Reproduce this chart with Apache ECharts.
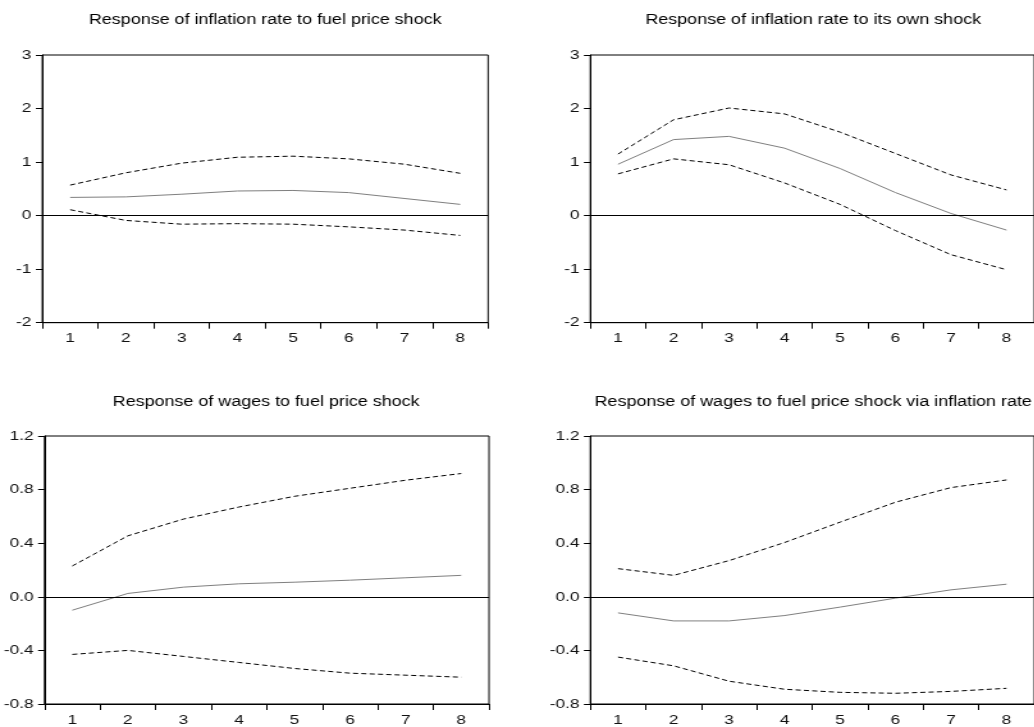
<!DOCTYPE html>
<html><head><meta charset="utf-8">
<script src="https://cdn.jsdelivr.net/npm/echarts@6/dist/echarts.min.js"></script>
<style>
html,body{margin:0;padding:0;background:#fff;overflow:hidden;width:1034px;height:727px;}
#chart{width:808px;height:727px;transform:scaleX(1.28);transform-origin:0 0;}
</style></head><body><div id="chart"></div>
<script>
// ---- data ----
const categories = ['1', '2', '3', '4', '5', '6', '7', '8'];
const titles = [
  'Response of inflation rate to fuel price shock',
  'Response of inflation rate to its own shock',
  'Response of wages to fuel price shock',
  'Response of wages to fuel price shock via inflation rate'
];
// panel 1: inflation rate <- fuel price shock
const p1Upper = [0.57, 0.80, 0.98, 1.09, 1.11, 1.06, 0.96, 0.79];
const p1Resp  = [0.34, 0.35, 0.40, 0.46, 0.47, 0.43, 0.32, 0.21];
const p1Lower = [0.11, -0.09, -0.16, -0.15, -0.16, -0.21, -0.27, -0.37];
// panel 2: inflation rate <- own shock
const p2Upper = [1.15, 1.79, 2.01, 1.90, 1.56, 1.16, 0.76, 0.48];
const p2Resp  = [0.96, 1.42, 1.48, 1.26, 0.88, 0.43, 0.04, -0.27];
const p2Lower = [0.78, 1.06, 0.95, 0.61, 0.21, -0.28, -0.73, -1.01];
// panel 3: wages <- fuel price shock
const p3Upper = [0.23, 0.455, 0.58, 0.67, 0.75, 0.81, 0.87, 0.92];
const p3Resp  = [-0.10, 0.025, 0.072, 0.097, 0.109, 0.124, 0.142, 0.16];
const p3Lower = [-0.43, -0.40, -0.445, -0.49, -0.535, -0.57, -0.585, -0.60];
// panel 4: wages <- fuel price shock via inflation rate
const p4Upper = [0.21, 0.16, 0.27, 0.405, 0.557, 0.706, 0.815, 0.872];
const p4Resp  = [-0.12, -0.18, -0.18, -0.14, -0.077, -0.01, 0.052, 0.094];
const p4Lower = [-0.45, -0.515, -0.63, -0.69, -0.713, -0.72, -0.706, -0.683];
// y axis ranges
const topAxis = {min: -2, max: 3, interval: 1, decimals: 0};
const bottomAxis = {min: -0.8, max: 1.2, interval: 0.4, decimals: 1};

// ---- layout (reference pixels; x divided by horizontal stretch) ----
const SX = 1.28;
const FONT = '"Liberation Sans", Arial, Helvetica, sans-serif';
const panels = [
  {left: 42.3, top: 55, width: 445.8, height: 267.7, axis: topAxis, data: [p1Upper, p1Resp, p1Lower], tx: 265.2, ty: 20.5},
  {left: 590.3, top: 55, width: 445.8, height: 267.7, axis: topAxis, data: [p2Upper, p2Resp, p2Lower], tx: 813.2, ty: 20.5},
  {left: 43.2, top: 436, width: 445.8, height: 268.3, axis: bottomAxis, data: [p3Upper, p3Resp, p3Lower], tx: 266.1, ty: 402.5},
  {left: 590.3, top: 436, width: 445.8, height: 268.3, axis: bottomAxis, data: [p4Upper, p4Resp, p4Lower], tx: 813.2, ty: 402.5}
];

const grid = [], xAxis = [], yAxis = [], series = [], graphic = [];
panels.forEach((p, i) => {
  grid.push({left: p.left / SX, top: p.top, width: p.width / SX, height: p.height,
    show: true, borderColor: '#000', borderWidth: 1, backgroundColor: 'transparent'});
  xAxis.push({type: 'category', gridIndex: i, data: categories, boundaryGap: true,
    axisLine: {show: true, onZero: false, lineStyle: {color: '#000', width: 1}},
    axisTick: {show: true, length: 6, inside: false, lineStyle: {color: '#000', width: 1}},
    axisLabel: {color: '#111', fontSize: 13.5, fontFamily: FONT, margin: 9},
    splitLine: {show: false}});
  const d = p.axis.decimals;
  yAxis.push({type: 'value', gridIndex: i, min: p.axis.min, max: p.axis.max, interval: p.axis.interval,
    axisLine: {show: true, lineStyle: {color: '#000', width: 1}},
    axisTick: {show: true, length: 5, inside: false, lineStyle: {color: '#000', width: 1}},
    axisLabel: {color: '#111', fontSize: 13.5, fontFamily: FONT, margin: 8.5,
      padding: [0, 0, 4, 0], formatter: v => Number(v).toFixed(d)},
    splitLine: {show: false}});
  const [up, resp, lo] = p.data;
  series.push({type: 'line', xAxisIndex: i, yAxisIndex: i, data: up, symbol: 'none',
    lineStyle: {color: '#000', width: 1, type: [4, 2.5]}, z: 3, silent: true});
  series.push({type: 'line', xAxisIndex: i, yAxisIndex: i, data: resp, symbol: 'none',
    lineStyle: {color: '#808080', width: 1, type: 'solid'}, z: 3, silent: true,
    markLine: {silent: true, symbol: ['none', 'none'], label: {show: false},
      lineStyle: {color: '#000', width: 1, type: 'solid'}, data: [{yAxis: 0}], animation: false}});
  series.push({type: 'line', xAxisIndex: i, yAxisIndex: i, data: lo, symbol: 'none',
    lineStyle: {color: '#000', width: 1, type: [4, 2.5]}, z: 3, silent: true});
  graphic.push({type: 'text', x: p.tx / SX, y: p.ty, silent: true,
    style: {text: titles[i], fill: '#000', font: '14px ' + FONT, align: 'center', verticalAlign: 'middle'}});
});

const chart = echarts.init(document.getElementById('chart'), null, {renderer: 'canvas'});
chart.setOption({animation: false, backgroundColor: '#fff', grid, xAxis, yAxis, series, graphic});
</script></body></html>
